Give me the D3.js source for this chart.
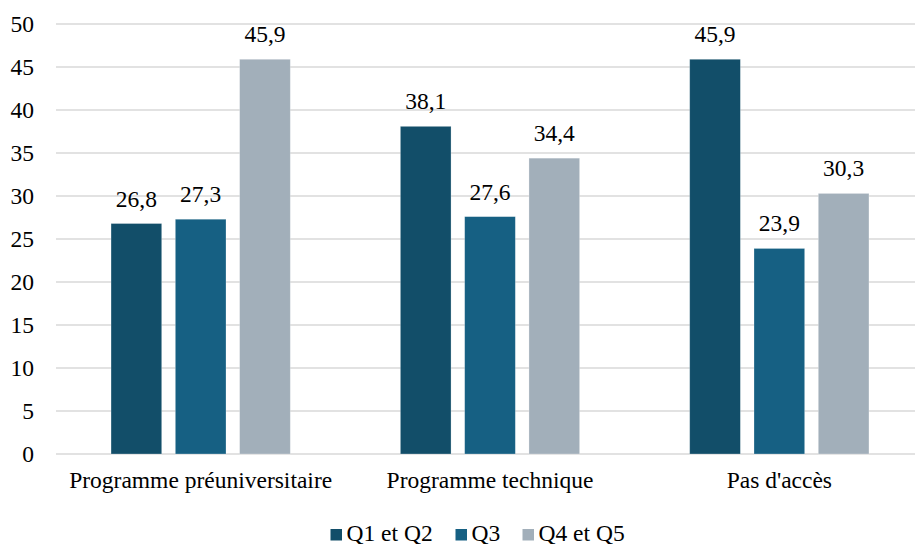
<!DOCTYPE html>
<html>
<head>
<meta charset="utf-8">
<script src="https://cdn.jsdelivr.net/npm/d3@7"></script>
<style>
  html, body { margin: 0; padding: 0; background: #fff; }
  svg { display: block; }
  svg text { font-family: "Liberation Serif", "Times New Roman", Times, "DejaVu Serif", serif !important; fill: #000; }
</style>
</head>
<body>
<svg id="chart" width="915" height="544"></svg>
<script>
// Share of students by programme type, per income quintile group
const categories = ["Programme préuniversitaire", "Programme technique", "Pas d'accès"];
const seriesNames = ["Q1 et Q2", "Q3", "Q4 et Q5"];
const q1q2 = [26.8, 38.1, 45.9];
const q3 = [27.3, 27.6, 23.9];
const q4q5 = [45.9, 34.4, 30.3];
const yTicks = [0, 5, 10, 15, 20, 25, 30, 35, 40, 45, 50];
const colors = ["#124e69", "#166083", "#a2afba"];

const seriesValues = [q1q2, q3, q4q5];

const svg = d3.select("#chart");
const plotLeft = 56, plotRight = 924, plotTop = 24, plotBottom = 454;
const fontSize = 23.5;

const x0 = d3.scaleBand().domain(categories).range([plotLeft, plotRight]).paddingInner(0).paddingOuter(0);
const x1 = d3.scaleBand().domain(seriesNames).range([0, x0.bandwidth()]).paddingInner(0.212).paddingOuter(0.856);
const y = d3.scaleLinear().domain([0, 50]).range([plotBottom, plotTop]);

const fmt = v => v.toFixed(1).replace(".", ",");

// Horizontal gridlines
svg.append("g").selectAll("line").data(yTicks).join("line")
  .attr("x1", plotLeft).attr("x2", 915)
  .attr("y1", d => y(d)).attr("y2", d => y(d))
  .attr("stroke", "#d9d9d9").attr("stroke-width", 1.5);

// Y axis labels
const yAxis = d3.axisLeft(y).tickValues(yTicks).tickSize(0).tickPadding(0);
const gy = svg.append("g").attr("transform", `translate(34,0)`).call(yAxis);
gy.select(".domain").remove();
gy.attr("font-size", null).attr("font-family", null);
gy.selectAll("text").attr("font-size", fontSize);

// Bars with value labels
const groups = svg.append("g").selectAll("g").data(categories).join("g")
  .attr("transform", d => `translate(${x0(d)},0)`);

groups.each(function (cat, ci) {
  const g = d3.select(this);
  seriesNames.forEach((s, si) => {
    const v = seriesValues[si][ci];
    g.append("rect")
      .attr("x", x1(s)).attr("width", x1.bandwidth())
      .attr("y", y(v)).attr("height", y(0) - y(v))
      .attr("fill", colors[si])
      .attr("stroke", "#ffffff").attr("stroke-opacity", 0.35).attr("stroke-width", 0.75);
    g.append("text")
      .attr("x", x1(s) + x1.bandwidth() / 2)
      .attr("y", y(v) - 17)
      .attr("text-anchor", "middle")
      .attr("font-size", fontSize)
      .text(fmt(v));
  });
});

// Category labels
svg.append("g").selectAll("text").data(categories).join("text")
  .attr("x", d => x0(d) + x1("Q3") + x1.bandwidth() / 2)
  .attr("y", 488)
  .attr("text-anchor", "middle")
  .attr("font-size", fontSize)
  .text(d => d);

// Legend
const legendX = [330.5, 455.5, 522.5];
const legend = svg.append("g").selectAll("g").data(seriesNames).join("g")
  .attr("transform", (d, i) => `translate(${legendX[i]},0)`);
legend.append("rect").attr("x", 0).attr("y", 529).attr("width", 11.5).attr("height", 11.5)
  .attr("fill", (d, i) => colors[i]);
legend.append("text").attr("x", 16).attr("y", 540.5)
  .attr("font-size", fontSize).text(d => d);
</script>
</body>
</html>
